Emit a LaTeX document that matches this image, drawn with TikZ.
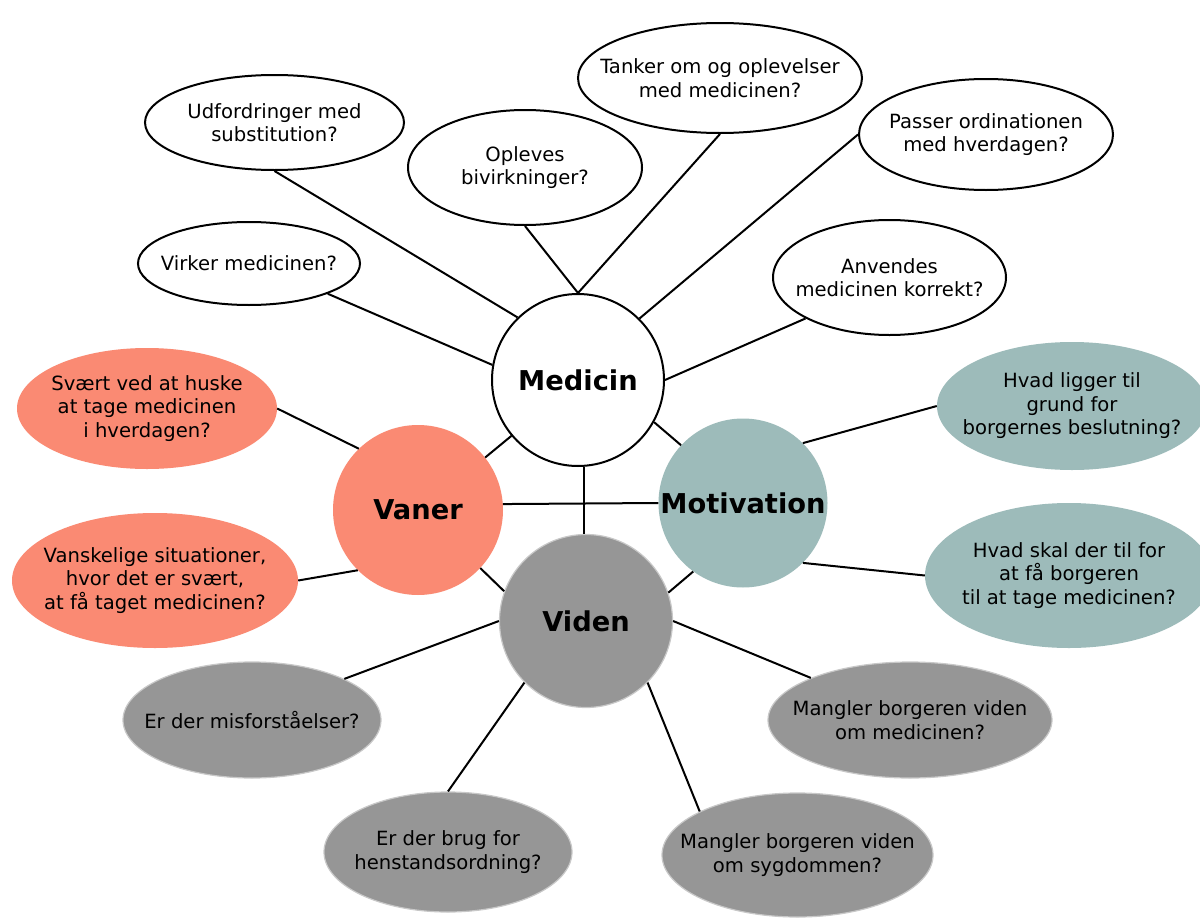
\documentclass[tikz,border=0pt]{standalone}
\usepackage{fontspec}
\setmainfont{DejaVu Sans}
\usetikzlibrary{shapes.geometric}
\definecolor{salmon}{RGB}{250,138,115}
\definecolor{tealc}{RGB}{157,187,186}
\definecolor{greyc}{RGB}{150,150,150}
\definecolor{greyedge}{RGB}{200,200,200}
\begin{document}
\begin{tikzpicture}[x=1pt,y=-1pt,
  lbl/.style={font=\fontsize{19.6}{23.5}\selectfont, align=center, inner sep=0pt},
  q/.style={ellipse, inner sep=0pt, label={[lbl]center:#1}},
  wq/.style={q={#1}, draw=black, fill=white, line width=2pt},
  sq/.style={q={#1}, fill=salmon},
  tq/.style={q={#1}, fill=tealc},
  gq/.style={q={#1}, fill=greyc, draw=greyedge, line width=1.2pt},
  hub/.style={circle, inner sep=0pt, minimum size=172pt, font=\bfseries\fontsize{27.3}{30}\selectfont},
  link/.style={line width=2pt, draw=black}
]
\clip (0,0) rectangle (1200,918);
\fill[white] (0,0) rectangle (1200,918);

% hubs
\node[hub, draw=black, fill=white, line width=2pt] (medicin) at (578,380) {Medicin};
\node[hub, fill=salmon, minimum size=170pt] (vaner) at (418,510) {Vaner};
\node[hub, fill=tealc, minimum size=169pt] (motiv) at (743,503) {Motivation};
\node[hub, fill=greyc, draw=greyedge, line width=1.2pt, minimum size=173pt] (viden) at (586,621) {Viden};

% medicin questions
\node[wq={Udfordringer med\\substitution?}, minimum width=259pt, minimum height=95pt] (udf) at (274.5,122.5) {};
\node[wq={Virker medicinen?}, minimum width=222pt, minimum height=83pt] (virker) at (249,263.5) {};
\node[wq={Opleves\\bivirkninger?}, minimum width=234pt, minimum height=115pt] (oplev) at (525,167.5) {};
\node[wq={Tanker om og oplevelser\\med medicinen?}, minimum width=284pt, minimum height=110pt] (tanker) at (720,78) {};
\node[wq={Passer ordinationen\\med hverdagen?}, minimum width=254pt, minimum height=111pt] (passer) at (986,134.5) {};
\node[wq={Anvendes\\medicinen korrekt?}, minimum width=233pt, minimum height=115pt] (anv) at (889.5,277.5) {};

% vaner questions
\node[sq={Svært ved at huske\\at tage medicinen\\i hverdagen?}, minimum width=260pt, minimum height=121pt] (svaert) at (147,408.5) {};
\node[sq={Vanskelige situationer,\\hvor det er svært,\\at få taget medicinen?}, minimum width=286pt, minimum height=135pt] (vansk) at (155,580.5) {};

% motivation questions
\node[tq={Hvad ligger til\\grund for\\borgernes beslutning?}, minimum width=270pt, minimum height=128pt] (hvad1) at (1072,406) {};
\node[tq={Hvad skal der til for\\at få borgeren\\til at tage medicinen?}, minimum width=288pt, minimum height=145pt] (hvad2) at (1069,575.5) {};

% viden questions
\node[gq={Er der misforståelser?}, minimum width=258pt, minimum height=116pt] (misf) at (252,720) {};
\node[gq={Er der brug for\\henstandsordning?}, minimum width=248pt, minimum height=120pt] (brug) at (448,852) {};
\node[gq={Mangler borgeren viden\\om medicinen?}, minimum width=284pt, minimum height=116pt] (mang1) at (910,720) {};
\node[gq={Mangler borgeren viden\\om sygdommen?}, minimum width=271pt, minimum height=124pt] (mang2) at (797.5,855) {};

% connectors around Medicin
\draw[link] (udf.south) -- (medicin.134);
\draw[link] (virker.-21) -- (medicin.170);
\draw[link] (oplev.south) -- (medicin.north);
\draw[link] (tanker.south) -- (medicin.north);
\draw[link] (passer.west) -- (medicin.45);
\draw[link] (anv.206) -- (medicin.east);

% hub connectors
\draw[link] (medicin.220) -- (vaner.38);
\draw[link] (medicin.-29) -- (motiv.137);
\draw[link] (medicin.-86.7) -- (medicin.-86.7 |- viden.north);
\draw[link] (vaner.4) -- (motiv.180);
\draw[link] (vaner.-43) -- (viden.160);
\draw[link] (motiv.234) -- (viden.19);

% vaner connectors
\draw[link] (svaert.east) -- (vaner.134);
\draw[link] (vansk.east) -- (vaner.225);

% motivation connectors
\draw[link] (motiv.45) -- (hvad1.west);
\draw[link] (motiv.-45) -- (hvad2.west);

% viden connectors
\draw[link] (misf.24) -- (viden.west);
\draw[link] (brug.north) -- (viden.225);
\draw[link] (mang1.157) -- (viden.east);
\draw[link] (mang2.156) -- (viden.-45);
\end{tikzpicture}
\end{document}
